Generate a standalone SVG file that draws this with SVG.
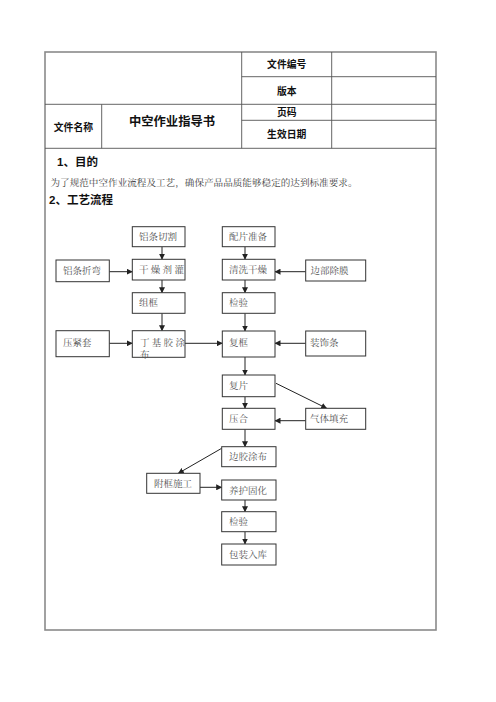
<svg xmlns="http://www.w3.org/2000/svg" width="496" height="702" viewBox="0 0 496 702">
<defs>
<marker id="ah" markerWidth="6" markerHeight="6" refX="5.5" refY="3" orient="auto" markerUnits="userSpaceOnUse">
<path d="M0,0 L6,3 L0,6 z" fill="#222"/>
</marker>
<style>
.frame{fill:none;stroke:#8a8a8a;stroke-width:1.6}
.cell{stroke:#555;stroke-width:0.9;fill:none}
.hd{font-family:"Liberation Sans","Noto Sans CJK SC",sans-serif;font-weight:bold;font-size:9.8px;fill:#111;text-anchor:middle}
.title{font-family:"Liberation Sans","Noto Sans CJK SC",sans-serif;font-weight:bold;font-size:12.3px;fill:#111;text-anchor:middle}
.sec{font-family:"Liberation Sans","Noto Sans CJK SC",sans-serif;font-weight:bold;font-size:11.5px;fill:#111}
.body{font-family:"Liberation Serif","Noto Serif CJK SC","Noto Sans CJK SC",serif;font-size:9.6px;fill:#444}
.box rect{fill:#fff;stroke:#333;stroke-width:1}
.box text{font-family:"Liberation Serif","Noto Serif CJK SC","Noto Sans CJK SC",serif;font-size:9.5px;fill:#555}
.conn line{stroke:#222;stroke-width:1;marker-end:url(#ah)}
</style>
</defs>
<rect width="496" height="702" fill="#fff"/>
<g id="table">
<rect class="frame" x="45" y="52" width="391" height="578"/>
<line class="cell" x1="241.7" y1="52" x2="241.7" y2="148.3"/>
<line class="cell" x1="331.7" y1="52" x2="331.7" y2="148.3"/>
<line class="cell" x1="101.7" y1="104.3" x2="101.7" y2="148.3"/>
<line class="cell" x1="241.7" y1="76.7" x2="436" y2="76.7"/>
<line class="cell" x1="45" y1="104.3" x2="436" y2="104.3"/>
<line class="cell" x1="241.7" y1="120.3" x2="436" y2="120.3"/>
<line class="cell" x1="45" y1="148.3" x2="436" y2="148.3"/>
<text class="hd" x="286.7" y="68">文件编号</text>
<text class="hd" x="286.7" y="95">版本</text>
<text class="hd" x="286.7" y="116">页码</text>
<text class="hd" x="286.7" y="138">生效日期</text>
<text class="hd" x="73.4" y="131">文件名称</text>
<text class="title" x="172" y="125.5">中空作业指导书</text>
</g>
<text class="sec" x="57" y="166">1、目的</text>
<text class="body" x="50.5" y="185.5">为了规范中空作业流程及工艺，确保产品品质能够稳定的达到标准要求。</text>
<text class="sec" x="49" y="204">2、工艺流程</text>
<g id="connectors" class="conn">
<line x1="162" y1="246.7" x2="162" y2="259.3"/>
<line x1="245" y1="246.7" x2="245" y2="259.3"/>
<line x1="109.3" y1="271.7" x2="132.3" y2="271.7"/>
<line x1="305.7" y1="271.7" x2="275" y2="271.7"/>
<line x1="162" y1="280" x2="162" y2="292.7"/>
<line x1="245" y1="280" x2="245" y2="292.7"/>
<line x1="162" y1="313.3" x2="162" y2="330.7"/>
<line x1="245" y1="313.3" x2="245" y2="331"/>
<line x1="109.3" y1="343.3" x2="132.3" y2="343.3"/>
<line x1="185" y1="343.3" x2="222.3" y2="343.3"/>
<line x1="305.7" y1="343.3" x2="275" y2="343.3"/>
<line x1="245" y1="357" x2="245" y2="375"/>
<line x1="245" y1="396.7" x2="245" y2="408.3"/>
<line x1="276" y1="383.3" x2="326.7" y2="408.3"/>
<line x1="305.7" y1="420.7" x2="275" y2="420.7"/>
<line x1="245" y1="429.3" x2="245" y2="446.7"/>
<line x1="221.7" y1="448.3" x2="178.3" y2="473.3"/>
<line x1="200" y1="487.3" x2="221.7" y2="487.3"/>
<line x1="245" y1="500" x2="245" y2="511.7"/>
<line x1="245" y1="531.7" x2="245" y2="544"/>
</g>
<g id="n-cut" class="box"><rect x="132.3" y="226.7" width="52.7" height="20"/><text x="139" y="240">铝条切割</text></g>
<g id="n-prep" class="box"><rect x="222.3" y="226.7" width="52.7" height="20"/><text x="229" y="240">配片准备</text></g>
<g id="n-bend" class="box"><rect x="56" y="260" width="53.3" height="21.7"/><text x="63" y="274">铝条折弯</text></g>
<g id="n-desic" class="box"><rect x="132.3" y="259.3" width="52.7" height="20.7"/><text x="139" y="273" letter-spacing="2.3">干燥剂灌</text></g>
<g id="n-wash" class="box"><rect x="222.3" y="259.3" width="52.7" height="20.7"/><text x="229" y="273">清洗干燥</text></g>
<g id="n-strip" class="box"><rect x="305.7" y="260" width="60" height="21"/><text x="310.5" y="274">边部除膜</text></g>
<g id="n-frame" class="box"><rect x="132.3" y="292.7" width="52.7" height="20.6"/><text x="139" y="306">组框</text></g>
<g id="n-insp1" class="box"><rect x="222.3" y="292.7" width="52.7" height="20.6"/><text x="229" y="306">检验</text></g>
<g id="n-press" class="box"><rect x="56" y="330.7" width="53.3" height="26"/><text x="63" y="346">压紧套</text></g>
<g id="n-butyl" class="box"><rect x="132.3" y="330.7" width="52.7" height="26.6"/><text x="140" y="346" letter-spacing="2.3">丁基胶涂</text><text x="140" y="358">布</text></g>
<g id="n-reframe" class="box"><rect x="222.3" y="331" width="52.7" height="26"/><text x="229" y="346">复框</text></g>
<g id="n-deco" class="box"><rect x="305.7" y="331" width="60" height="25"/><text x="310" y="346">装饰条</text></g>
<g id="n-pane" class="box"><rect x="222.3" y="375" width="52.7" height="21.7"/><text x="229" y="389">复片</text></g>
<g id="n-pressfit" class="box"><rect x="222.3" y="408.3" width="52.7" height="21"/><text x="229" y="422">压合</text></g>
<g id="n-gas" class="box"><rect x="305.7" y="408.3" width="60" height="21"/><text x="310" y="422">气体填充</text></g>
<g id="n-edge" class="box"><rect x="221.7" y="446.7" width="54.3" height="20"/><text x="229" y="460">边胶涂布</text></g>
<g id="n-sub" class="box"><rect x="146.7" y="473.3" width="53.3" height="20"/><text x="154" y="487">附框施工</text></g>
<g id="n-cure" class="box"><rect x="221.7" y="480" width="54.3" height="20"/><text x="229" y="494">养护固化</text></g>
<g id="n-insp2" class="box"><rect x="221.7" y="511.7" width="54.3" height="20"/><text x="229" y="525">检验</text></g>
<g id="n-pack" class="box"><rect x="221.7" y="544" width="54.3" height="21"/><text x="229" y="558">包装入库</text></g>
</svg>
